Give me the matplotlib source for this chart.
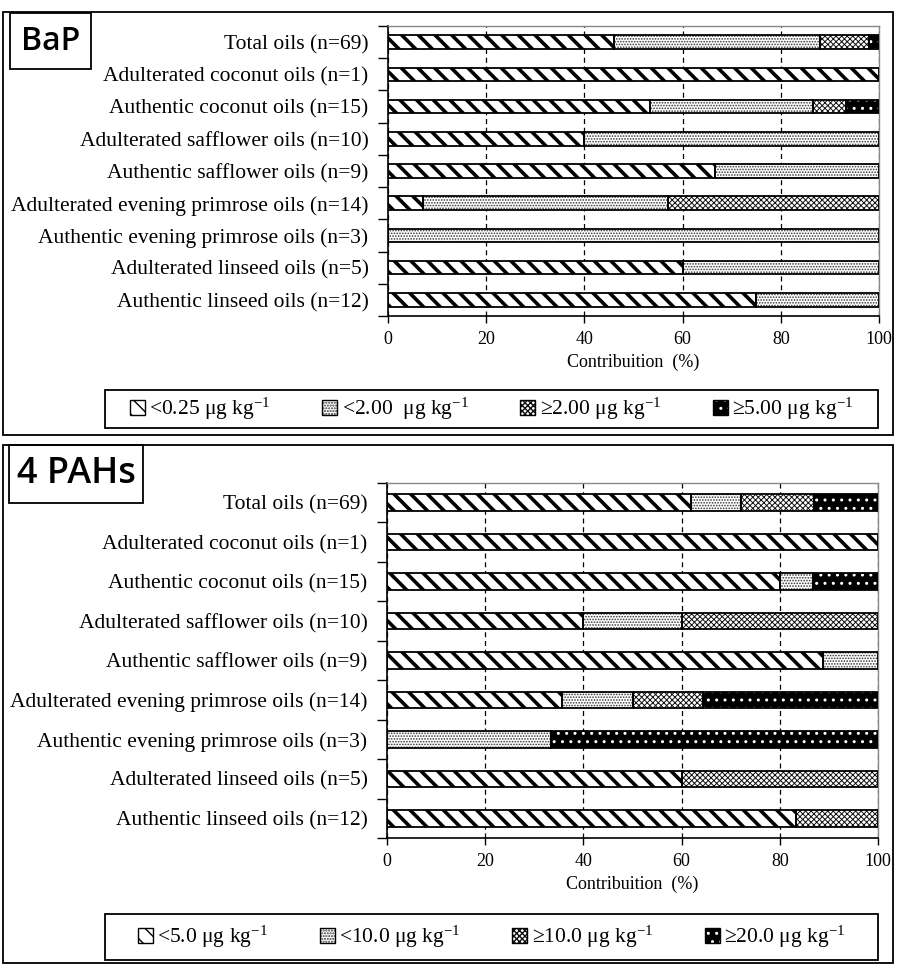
import numpy as np
import matplotlib
matplotlib.use('Agg')
import matplotlib.pyplot as plt
from matplotlib.patches import Rectangle, Patch
from matplotlib.legend_handler import HandlerTuple

plt.rcParams['font.family'] = ['Liberation Serif', 'DejaVu Serif']
plt.rcParams['mathtext.fontset'] = 'custom'
plt.rcParams['mathtext.rm'] = 'Liberation Serif'
plt.rcParams['mathtext.it'] = 'Liberation Serif:italic'
plt.rcParams['mathtext.default'] = 'rm'

# データ（%）
categories = ['Total oils (n=69)', 'Adulterated coconut oils (n=1)',
              'Authentic coconut oils (n=15)', 'Adulterated safflower oils (n=10)',
              'Authentic safflower oils (n=9)', 'Adulterated evening primrose oils (n=14)',
              'Authentic evening primrose oils (n=3)', 'Adulterated linseed oils (n=5)',
              'Authentic linseed oils (n=12)']

bap_lt025 = [46, 100, 53.3, 40, 66.7, 7.1, 0, 60, 75]
bap_lt200 = [42, 0, 33.3, 60, 33.3, 50, 100, 40, 25]
bap_ge200 = [10, 0, 6.7, 0, 0, 42.9, 0, 0, 0]
bap_ge500 = [2, 0, 6.7, 0, 0, 0, 0, 0, 0]
bap_labels = ['<0.25 μg kg$^{-1}$', '<2.00  μg kg$^{-1}$',
              '≥2.00 μg kg$^{-1}$', '≥5.00 μg kg$^{-1}$']

pah_lt5 = [62, 100, 80, 40, 88.9, 35.7, 0, 60, 83.3]
pah_lt10 = [10, 0, 6.7, 20, 11.1, 14.3, 33.3, 0, 0]
pah_ge10 = [15, 0, 0, 40, 0, 14.3, 0, 40, 16.7]
pah_ge20 = [13, 0, 13.3, 0, 0, 35.7, 66.7, 0, 0]
pah_labels = ['<5.0 μg kg$^{-1}$', '<10.0 μg kg$^{-1}$',
              '≥10.0 μg kg$^{-1}$', '≥20.0 μg kg$^{-1}$']

# 塗りパターン: (面の色, ハッチ色, ハッチ, ハッチ線幅)
styles = [('white', 'black', '\\\\', 2.6),
          ('white', '#333333', '......', 0.8),
          ('white', '#111111', 'xxxxxx', 0.7),
          ('black', 'white', '..', 1.0)]

W, H = 897, 965
fig = plt.figure(figsize=(W / 100, H / 100), dpi=100)


def fig_rect(x0, y0, x1, y1, lw=1.3):
    # ピクセル座標（上から）で枠を描く
    fig.patches.append(Rectangle((x0 / W, 1 - y1 / H), (x1 - x0) / W, (y1 - y0) / H,
                                 transform=fig.transFigure, fill=False,
                                 edgecolor='black', linewidth=lw))


def make_patch(style):
    face, hcol, hatch, hlw = style
    with plt.rc_context({'hatch.linewidth': hlw}):
        p = Patch(facecolor=face, edgecolor=hcol, hatch=hatch, linewidth=0)
    if hasattr(p, 'set_hatch_linewidth'):
        p.set_hatch_linewidth(hlw)
    return (p, Patch(fill=False, edgecolor='black', linewidth=1.0))


def panel(rect, series, labels, title, title_box, title_size, frame, leg_box):
    ax = fig.add_axes([rect[0] / W, 1 - rect[3] / H, (rect[2] - rect[0]) / W,
                       (rect[3] - rect[1]) / H])
    y = np.arange(len(categories))
    left = np.zeros(len(categories))
    for vals, style in zip(series, styles):
        vals = np.array(vals, dtype=float)
        m = vals > 0
        face, hcol, hatch, hlw = style
        with plt.rc_context({'hatch.linewidth': hlw}):
            bars = ax.barh(y[m], vals[m], left=left[m], height=0.42, color=face,
                           edgecolor=hcol, hatch=hatch, linewidth=0, zorder=2)
        for b in bars:
            if hasattr(b, 'set_hatch_linewidth'):
                b.set_hatch_linewidth(hlw)
        ax.barh(y[m], vals[m], left=left[m], height=0.42, fill=False,
                edgecolor='black', linewidth=1.3, zorder=3)
        left += vals

    ax.set_xlim(0, 100)
    ax.set_ylim(len(categories) - 0.5, -0.5)
    ax.set_xticks(np.arange(0, 101, 20))
    ax.set_yticks(np.arange(-0.5, len(categories), 1), labels=[])
    ax.set_yticks(y, labels=categories, minor=True)
    ax.tick_params(axis='y', which='major', length=7, width=1, direction='out')
    ax.tick_params(axis='y', which='minor', length=0, pad=14, labelsize=15.5)
    ax.tick_params(axis='x', length=5, width=1, labelsize=13, pad=6)
    ax.xaxis.grid(True, linestyle=(0, (4, 3)), color='black', linewidth=0.9)
    ax.set_axisbelow(True)
    for s in ['top', 'right']:
        ax.spines[s].set_color('#888888')
        ax.spines[s].set_linewidth(1.0)
    for s in ['left', 'bottom']:
        ax.spines[s].set_linewidth(1.2)
    ax.set_xlabel('Contribuition  (%)', fontsize=13, labelpad=4)

    # 外枠とタイトル
    fig_rect(*frame)
    fig_rect(*title_box)
    fig.text((title_box[0] + title_box[2]) / 2 / W, 1 - (title_box[1] + title_box[3]) / 2 / H,
             title, family=['Open Sans', 'DejaVu Sans'], fontweight='semibold',
             fontsize=title_size, ha='center', va='center')

    # 凡例
    fig_rect(*leg_box)
    handles = [make_patch(s) for s in styles]
    fig.legend(handles, labels, loc='center', ncol=4, frameon=False,
               bbox_to_anchor=((leg_box[0] + leg_box[2]) / 2 / W,
                               1 - (leg_box[1] + leg_box[3]) / 2 / H),
               handler_map={tuple: HandlerTuple(ndivide=1, pad=0)},
               handlelength=0.7, handleheight=0.7, handletextpad=0.2,
               columnspacing=2.4, fontsize=15.5)
    return ax


panel((388, 26, 879, 316), [bap_lt025, bap_lt200, bap_ge200, bap_ge500], bap_labels,
      'BaP', (10, 13, 91, 69), 23, (3, 12, 893, 435), (105, 390, 878, 428))
panel((387, 483, 878, 838), [pah_lt5, pah_lt10, pah_ge10, pah_ge20], pah_labels,
      '4 PAHs', (9, 445, 143, 503), 26, (3, 445, 893, 963), (105, 914, 878, 960))

plt.savefig('out.png', dpi=100)
